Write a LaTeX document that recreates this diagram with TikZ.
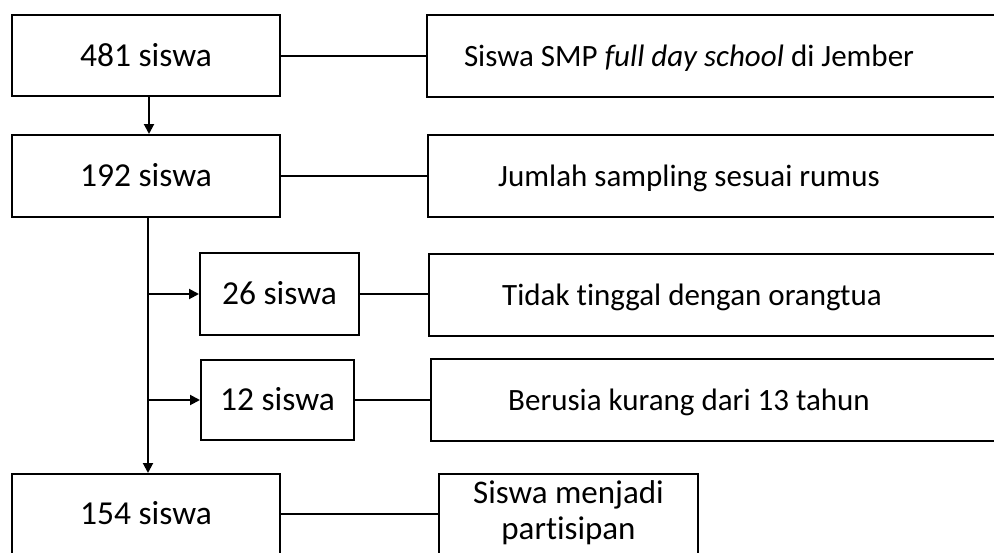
\documentclass[tikz,border=0pt]{standalone}
\usepackage{fontspec}
\usepackage{graphicx}
\setmainfont{Carlito}[Ligatures=NoCommon]
\usetikzlibrary{arrows.meta}
\begin{document}
\begin{tikzpicture}[x=1pt,y=-1pt,
  box/.style={draw, line width=2pt, inner sep=0pt, anchor=north west},
  lbox/.style={box, font=\fontsize{33.5}{40}\selectfont, text height=21.5pt, text depth=0pt},
  rbox/.style={box, minimum height=82pt, font=\fontsize{31}{38}\selectfont, text height=20pt, text depth=0pt},
  pbox/.style={box, font=\fontsize{33}{36}\selectfont},
  link/.style={line width=2pt},
  arr/.style={line width=2pt, -{Triangle[length=10pt,width=10pt]}}]
\useasboundingbox (0,0) rectangle (994,552);
\clip (0,0) rectangle (994,552);
% left column
\node[lbox, minimum width=268pt, minimum height=81pt] (A) at (11,14) {481 siswa};
\node[lbox, minimum width=268pt, minimum height=82pt] (B) at (11,134) {192 siswa};
\node[lbox, minimum width=159pt, minimum height=82pt] (C) at (199,252) {26 siswa};
\node[lbox, minimum width=153pt, minimum height=80pt] (D) at (200,359) {12 siswa};
\node[lbox, minimum width=268pt, minimum height=80pt] (E) at (11,473) {154 siswa};
% right column
\node[rbox] (R1) at (426,14) {\makebox[640pt][l]{\makebox[524pt]{Siswa SMP \textit{full day school} di Jember}}};
\node[rbox] (R2) at (427,134) {\makebox[640pt][l]{\makebox[522pt]{Jumlah sampling sesuai rumus}}};
\node[rbox] (R3) at (428,253) {\makebox[640pt][l]{\makebox[526pt]{Tidak tinggal dengan orangtua}}};
\node[rbox] (R4) at (430,358) {\makebox[640pt][l]{\makebox[516pt]{Berusia kurang dari 13 tahun}}};
\node[pbox, minimum width=259pt, minimum height=80pt] (F) at (438,473)
  {\raisebox{-5pt}{\begin{tabular}{@{}c@{}}Siswa menjadi\\partisipan\end{tabular}}};
% connectors
\draw[link] (A.east) -- (R1.west |- A.east);
\draw[link] (B.east) -- (R2.west |- B.east);
\draw[link] (C.east) -- (R3.west |- C.east);
\draw[link] (D.east) -- (R4.west |- D.east);
\draw[link] (E.east) -- (F.west |- E.east);
\draw[arr] ([xshift=3pt]A.south) -- ([xshift=3pt]B.north);
\draw[arr] ([xshift=2pt]B.south) -- ([xshift=2pt]E.north);
\coordinate (j1) at ([xshift=2pt]B.south |- C.west);
\coordinate (j2) at ([xshift=2pt]B.south |- D.west);
\draw[arr] (j1) -- (C.west);
\draw[arr] (j2) -- (D.west);
\end{tikzpicture}
\end{document}
